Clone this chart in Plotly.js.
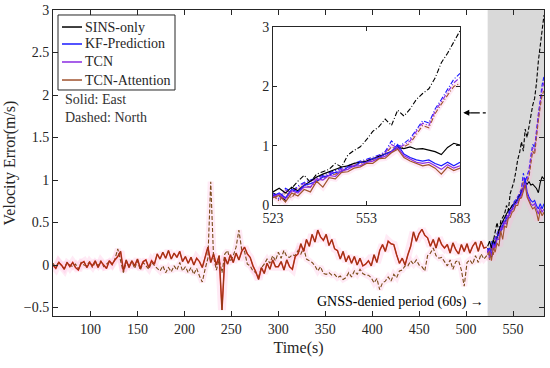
<!DOCTYPE html>
<html><head><meta charset="utf-8">
<script src="https://cdn.plot.ly/plotly-3.0.1.min.js"></script>
<style>html,body{margin:0;padding:0;background:#fff}#chart{width:550px;height:368px}</style>
</head><body><div id="chart"></div>
<script>
// ---- pre-outage (GNSS available), t = 60,63,...,522 ----
const preStart = 60, preStep = 3;
const preEast = [
  0.00,-0.04,0.03,0.00,-0.05,0.03,-0.02,0.03,-0.03,-0.06,
  0.02,0.04,-0.03,0.03,-0.01,0.05,-0.03,0.04,0.00,-0.04,
  0.05,0.01,0.06,0.10,0.16,-0.07,0.06,-0.03,0.05,-0.01,
  0.07,-0.04,0.04,0.06,-0.03,0.05,0.01,0.13,0.07,0.15,
  0.08,0.17,0.07,0.14,0.09,0.16,0.04,0.10,0.02,0.09,
  0.00,0.08,0.04,-0.03,0.09,0.21,0.03,0.13,0.00,0.11,
  -0.53,0.09,0.01,0.12,0.03,0.14,0.06,0.16,0.21,0.13,
  0.09,-0.01,-0.08,-0.17,-0.03,-0.10,0.02,-0.05,0.06,-0.02,
  -0.02,0.04,-0.06,0.06,-0.02,-0.05,0.10,0.13,0.25,0.16,
  0.30,0.22,0.36,0.27,0.41,0.33,0.29,0.36,0.23,0.30,
  0.19,0.17,0.07,0.16,0.04,0.11,0.02,0.10,0.00,0.08,
  -0.01,0.01,0.05,-0.01,0.12,0.03,0.17,0.24,0.16,0.28,
  0.25,0.24,0.12,0.02,0.08,0.00,0.12,0.22,0.39,0.28,
  0.37,0.42,0.35,0.32,0.22,0.30,0.20,0.32,0.24,0.20,
  0.24,0.14,0.26,0.18,0.13,0.24,0.16,0.25,0.14,0.22,
  0.27,0.16,0.28,0.20,0.21];
const preNorth = [
  0.02,-0.03,0.04,-0.01,-0.04,0.03,0.00,-0.02,0.01,-0.05,
  0.03,0.00,-0.01,0.04,-0.03,0.03,-0.01,0.05,-0.02,0.01,
  0.04,0.00,0.07,0.19,0.06,-0.09,0.03,-0.01,0.04,-0.04,
  0.05,-0.06,0.03,-0.01,-0.05,0.03,-0.01,-0.04,-0.07,-0.01,
  -0.09,-0.03,-0.08,-0.01,-0.06,0.03,-0.07,-0.02,-0.09,-0.03,
  -0.11,-0.04,-0.13,-0.20,-0.05,0.08,0.98,0.10,-0.06,0.06,
  -0.09,0.13,0.17,0.04,0.11,0.21,0.41,0.18,0.16,0.01,
  -0.01,-0.07,-0.09,-0.14,-0.03,0.01,0.07,0.02,0.11,0.05,
  0.15,0.08,0.17,0.10,0.09,0.12,0.11,0.17,0.13,0.20,
  0.07,0.05,0.03,-0.01,-0.07,-0.02,-0.10,-0.11,-0.09,-0.12,
  -0.11,-0.15,-0.13,-0.17,-0.15,-0.09,-0.14,-0.07,-0.11,-0.05,
  -0.10,-0.12,-0.12,-0.15,-0.21,-0.16,-0.29,-0.21,-0.19,-0.14,
  -0.19,-0.11,-0.15,-0.07,-0.06,-0.01,-0.01,0.05,0.01,0.06,
  0.00,-0.02,-0.07,0.11,0.14,0.20,0.11,0.08,0.09,0.04,
  -0.01,0.06,-0.05,0.04,0.05,-0.06,-0.25,0.03,0.06,0.01,
  0.11,0.03,0.13,0.07,0.11];

// ---- GNSS-denied period, t = 523,525,...,583 ----
const outStart = 523, outStep = 2;
const sinsNorth = [0.20,0.15,0.08,0.28,0.40,0.50,0.38,0.52,0.56,0.60,0.70,0.64,0.84,0.92,0.98,1.10,1.24,1.32,1.45,1.34,1.60,1.50,1.62,1.78,1.88,1.96,2.14,2.40,2.56,2.76,2.94];
const sinsEast  = [0.22,0.28,0.20,0.30,0.24,0.33,0.40,0.47,0.52,0.56,0.60,0.64,0.66,0.70,0.72,0.74,0.78,0.82,0.86,0.90,0.97,0.95,0.98,0.94,0.95,0.93,0.90,0.85,0.97,1.04,1.01];
const kfNorth   = [0.20,0.10,0.28,0.22,0.32,0.38,0.42,0.46,0.50,0.55,0.58,0.63,0.66,0.70,0.74,0.77,0.80,0.84,0.90,1.08,0.98,1.04,1.12,1.28,1.42,1.38,1.62,1.78,1.94,2.12,2.22];
const tcnNorth  = [0.18,0.08,0.25,0.20,0.30,0.36,0.40,0.44,0.48,0.53,0.56,0.60,0.64,0.68,0.72,0.75,0.78,0.83,0.88,1.02,0.96,1.01,1.08,1.24,1.38,1.34,1.58,1.74,1.90,2.06,2.15];
const tcnaNorth = [0.16,0.06,0.22,0.12,0.26,0.34,0.30,0.40,0.44,0.50,0.52,0.57,0.62,0.66,0.70,0.73,0.76,0.80,0.86,0.98,0.94,0.98,1.04,1.20,1.34,1.30,1.54,1.70,1.86,2.00,2.05];
const kfEast    = [0.15,0.20,0.12,0.26,0.22,0.33,0.36,0.40,0.47,0.50,0.55,0.56,0.64,0.65,0.72,0.72,0.78,0.80,0.86,0.90,1.02,0.86,0.80,0.76,0.74,0.76,0.70,0.66,0.72,0.66,0.72];
const tcnEast   = [0.14,0.18,0.10,0.24,0.20,0.30,0.30,0.44,0.42,0.50,0.48,0.58,0.60,0.66,0.66,0.72,0.74,0.79,0.82,0.90,0.97,0.83,0.77,0.72,0.70,0.72,0.66,0.60,0.68,0.62,0.66];
const tcnaEast  = [0.12,0.16,0.05,0.20,0.15,0.26,0.22,0.40,0.30,0.46,0.44,0.55,0.56,0.62,0.64,0.70,0.70,0.78,0.79,0.88,0.94,0.80,0.74,0.70,0.66,0.68,0.62,0.52,0.64,0.58,0.62];

const methods = ['SINS-only','KF-Prediction','TCN','TCN-Attention'];
const colors  = ['#000000','#1a1aff','#8a2be2','#a0522d'];
const eastSets  = [sinsEast, kfEast, tcnEast, tcnaEast];
const northSets = [sinsNorth, kfNorth, tcnNorth, tcnaNorth];

const xTicks = [100,150,200,250,300,350,400,450,500,550];
const yTicks = [-0.5,0,0.5,1,1.5,2,2.5,3];
const yTickText = ['\u22120.5','0','0.5','1','1.5','2','2.5','3'];
const insetXTicks = [523,553,583];
const insetYTicks = [0,1,2,3];

const F = 'Liberation Serif';
const HALO = 'rgba(255,185,222,0.30)';
const traces = [];

function pre(y, o){ return Object.assign({type:'scatter', mode:'lines', x0:preStart, dx:preStep, y:y, hoverinfo:'skip', showlegend:false}, o); }
function out(y, o){ return Object.assign({type:'scatter', mode:'lines', x0:outStart, dx:outStep, y:y, hoverinfo:'skip', showlegend:false}, o); }

// halos
traces.push(pre(preEast, {line:{color:HALO, width:8}}));
traces.push(pre(preNorth, {line:{color:HALO, width:6}}));
traces.push(out(tcnaEast, {line:{color:HALO, width:8}}));
traces.push(out(tcnaNorth, {line:{color:HALO, width:6}}));
traces.push(out(tcnaEast, {xaxis:'x2', yaxis:'y2', line:{color:HALO, width:6}}));
traces.push(out(tcnaNorth, {xaxis:'x2', yaxis:'y2', line:{color:HALO, width:5}}));

// pre-outage
traces.push(pre(preNorth, {line:{color:'#7a4a18', width:1.1, dash:'4px,2px'}}));
traces.push(pre(preEast, {line:{color:'#e3201b', width:1.5}}));
traces.push(pre(preEast, {line:{color:'#6e4614', width:0.7}}));

// outage - main axes
for (let i=0;i<4;i++){
  traces.push(out(northSets[i], {line:{color:colors[i], width:1.1, dash:'4px,2px'}}));
}
for (let i=0;i<4;i++){
  traces.push(out(eastSets[i], {name:methods[i], line:{color:colors[i], width:1.1}}));
}
// outage - inset axes
for (let i=0;i<4;i++){
  traces.push(out(northSets[i], {xaxis:'x2', yaxis:'y2', line:{color:colors[i], width:1.1, dash:'5px,2px,1px,2px'}}));
}
for (let i=0;i<4;i++){
  traces.push(out(eastSets[i], {xaxis:'x2', yaxis:'y2', line:{color:colors[i], width:1.2}}));
}

const axBase = {showline:true, linecolor:'#262626', linewidth:1, mirror:'ticks', ticks:'inside', ticklen:5, tickcolor:'#262626', showgrid:false, zeroline:false, tickfont:{family:F, size:14, color:'#262626'}};

// manual legend (paper coords)
const legendRows = [0.9444, 0.8889, 0.8301, 0.7712];
const shapes = [
  {type:'rect', xref:'x', yref:'y domain', x0:523, x1:583, y0:0, y1:1, fillcolor:'#d9d9d9', line:{width:0}, layer:'below'},
  {type:'line', xref:'x', yref:'y', x0:505, x1:523, y0:1.79, y1:1.79, line:{color:'#000000', width:1.2, dash:'dashdot'}},
  {type:'rect', xref:'paper', yref:'paper', x0:0.0102, x1:0.2485, y0:0.7386, y1:0.9837, fillcolor:'#ffffff', line:{color:'#262626', width:1}}
];
const annotations = [
  {xref:'x', yref:'y', x:497, y:1.79, ax:9, ay:0, axref:'pixel', ayref:'pixel', text:'', showarrow:true, arrowhead:2, arrowsize:1, arrowwidth:1.2, arrowcolor:'#000000'},
  {xref:'x', yref:'y', x:521, y:-0.435, xanchor:'right', yanchor:'middle', text:'GNSS-denied period (60s) \u2192', showarrow:false, font:{family:F, size:14, color:'#000000'}},
  {xref:'paper', yref:'paper', x:0.0204, y:0.7059, xanchor:'left', yanchor:'middle', text:'Solid: East', showarrow:false, font:{family:F, size:14, color:'#333333'}},
  {xref:'paper', yref:'paper', x:0.0204, y:0.6471, xanchor:'left', yanchor:'middle', text:'Dashed: North', showarrow:false, font:{family:F, size:14, color:'#333333'}}
];
for (let i=0;i<4;i++){
  shapes.push({type:'line', xref:'paper', yref:'paper', x0:0.0183, x1:0.0591, y0:legendRows[i], y1:legendRows[i], line:{color:colors[i], width:1.5}});
  annotations.push({xref:'paper', yref:'paper', x:0.0611, y:legendRows[i], xanchor:'left', yanchor:'middle', text:methods[i], showarrow:false, font:{family:F, size:14, color:'#262626'}});
}

const layout = {
  width:550, height:368,
  margin:{l:53, r:6, t:10, b:52},
  paper_bgcolor:'#ffffff', plot_bgcolor:'#ffffff',
  font:{family:F, size:14, color:'#262626'},
  showlegend:false,
  xaxis: Object.assign({}, axBase, {domain:[0,1], range:[60,583], tickmode:'array', tickvals:xTicks, title:{text:'Time(s)', font:{family:F, size:16, color:'#262626'}, standoff:6}}),
  yaxis: Object.assign({}, axBase, {domain:[0,1], range:[-0.6,3], tickmode:'array', tickvals:yTicks, ticktext:yTickText, title:{text:'Velocity Error(m/s)', font:{family:F, size:16, color:'#262626'}, standoff:4}}),
  xaxis2: Object.assign({}, axBase, {domain:[0.448,0.829], anchor:'y2', range:[523,583], tickmode:'array', tickvals:insetXTicks, ticklen:4}),
  yaxis2: Object.assign({}, axBase, {domain:[0.363,0.944], anchor:'x2', range:[0,3], tickmode:'array', tickvals:insetYTicks, ticklen:4}),
  shapes: shapes,
  annotations: annotations
};

Plotly.newPlot('chart', traces, layout, {displayModeBar:false, staticPlot:true});
</script></body></html>
